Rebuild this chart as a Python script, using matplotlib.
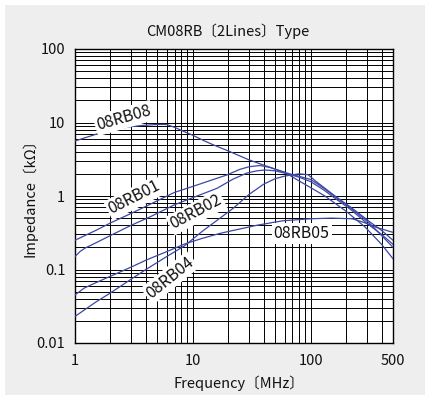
import matplotlib
matplotlib.use("Agg")
import matplotlib.pyplot as plt
from matplotlib.patches import Rectangle
from matplotlib.ticker import FixedLocator, LogLocator, NullFormatter

plt.rcParams['font.family'] = ['Noto Sans CJK JP', 'DejaVu Sans']

# ---- data (frequency MHz, impedance kOhm) ----
f_08 = [1, 1.5, 2, 3, 4, 5, 6, 7, 8, 10, 12.3, 15, 20, 30, 40, 60, 80, 100, 132, 200, 289, 400, 500]
z_08 = [5.6, 6.9, 7.9, 8.8, 9.2, 9.4, 9.4, 8.6, 7.8, 6.7, 5.7, 4.95, 4.1, 3.1, 2.63, 2.1, 1.6, 1.3, 1.0, 0.62, 0.38, 0.22, 0.14]

f_01 = [1, 1.5, 2, 3, 4.33, 5.5, 7, 10, 14, 19.4, 25, 30, 37, 45, 55, 63, 80, 100, 130, 161, 220, 309, 400, 500]
z_01 = [0.25, 0.34, 0.43, 0.58, 0.77, 0.93, 1.12, 1.35, 1.62, 1.93, 2.3, 2.5, 2.6, 2.45, 2.2, 2.05, 1.85, 1.68, 1.27, 0.98, 0.68, 0.44, 0.29, 0.2]

f_02 = [1, 1.1, 1.22, 1.5, 2, 3, 4.33, 7, 10, 16, 22, 28.7, 35, 41, 50, 60, 80, 100, 130, 161, 220, 309, 400, 500]
z_02 = [0.15, 0.175, 0.196, 0.23, 0.29, 0.40, 0.52, 0.76, 0.95, 1.27, 1.7, 2.05, 2.2, 2.26, 2.2, 2.05, 1.8, 1.57, 1.2, 0.93, 0.65, 0.41, 0.3, 0.22]

f_04 = [1, 1.5, 2, 3, 4, 6, 8.5, 12, 17, 22, 30, 40, 50, 59, 70, 80, 95, 110, 130, 161, 220, 309, 400, 500]
z_04 = [0.023, 0.036, 0.048, 0.074, 0.1, 0.15, 0.21, 0.33, 0.5, 0.68, 1.05, 1.45, 1.72, 1.85, 1.95, 2.0, 1.95, 1.6, 1.3, 1.0, 0.7, 0.46, 0.34, 0.25]

f_05 = [1, 1.2, 1.5, 2, 3, 4, 6, 8.5, 12, 17, 22, 35, 58, 100, 150, 225, 280, 350, 500]
z_05 = [0.045, 0.056, 0.066, 0.081, 0.108, 0.134, 0.175, 0.222, 0.265, 0.31, 0.34, 0.40, 0.46, 0.49, 0.5, 0.49, 0.44, 0.38, 0.32]

series = [(f_08, z_08), (f_01, z_01), (f_02, z_02), (f_04, z_04), (f_05, z_05)]

label_text = ["08RB08", "08RB01", "08RB02", "08RB04", "08RB05"]
label_f = [2.6, 3.2, 10.7, 6.4, 84]
label_z = [11.5, 0.95, 0.6, 0.077, 0.31]
label_rot = [16, 27, 28, 39, 0]

x_ticks = [1, 10, 100, 500]
x_ticklabels = ["1", "10", "100", "500"]
y_ticks = [0.01, 0.1, 1, 10, 100]
y_ticklabels = ["0.01", "0.1", "1", "10", "100"]

W, H = 429, 398
fig = plt.figure(figsize=(W / 100, H / 100), dpi=100, facecolor='white')
fig.patches.append(Rectangle((5 / W, 3 / H), 420 / W, 390 / H, transform=fig.transFigure,
                             facecolor='#eeeeee', edgecolor='none', zorder=-10))

ax = fig.add_axes([75 / W, 1 - 343 / H, 318 / W, 294 / H])
ax.set_facecolor('white')
ax.set_xscale('log')
ax.set_yscale('log')
ax.set_xlim(1, 500)
ax.set_ylim(0.01, 100)

ax.xaxis.set_major_locator(FixedLocator(x_ticks))
ax.set_xticklabels(x_ticklabels)
ax.yaxis.set_major_locator(FixedLocator(y_ticks))
ax.set_yticklabels(y_ticklabels)
ax.xaxis.set_minor_locator(LogLocator(base=10, subs=range(2, 10)))
ax.yaxis.set_minor_locator(LogLocator(base=10, subs=range(2, 10)))
ax.xaxis.set_minor_formatter(NullFormatter())
ax.yaxis.set_minor_formatter(NullFormatter())
ax.grid(True, which='both', color='black', lw=0.7)
ax.set_axisbelow(True)
ax.tick_params(which='both', length=0, labelsize=10.5, colors='#111111')
ax.tick_params(axis='x', pad=8)
ax.tick_params(axis='y', pad=7)
for s in ax.spines.values():
    s.set_linewidth(1.0)
    s.set_color('black')

for f, z in series:
    ax.plot(f, z, color='#3c47a3', lw=0.9, zorder=3)

for t, lf, lz, r in zip(label_text, label_f, label_z, label_rot):
    ax.text(lf, lz, t, rotation=r, rotation_mode='anchor', ha='center', va='center',
            fontsize=11.5, color='#111111', zorder=4,
            bbox=dict(boxstyle='square,pad=0.12', fc='white', ec='none'))

ax.set_xlabel('Frequency〔MHz〕', fontsize=10.5, color='#111111')
ax.set_ylabel('Impedance〔kΩ〕', fontsize=10.5, color='#111111')
ax.xaxis.set_label_coords(0.516, -0.112)
ax.yaxis.set_label_coords(-0.118, 0.507)

fig.text(228 / W, 1 - 31 / H, 'CM08RB〔2Lines〕Type', ha='center', va='center',
         fontsize=10.5, color='#111111')

fig.savefig('out.png', dpi=100, facecolor=fig.get_facecolor())
